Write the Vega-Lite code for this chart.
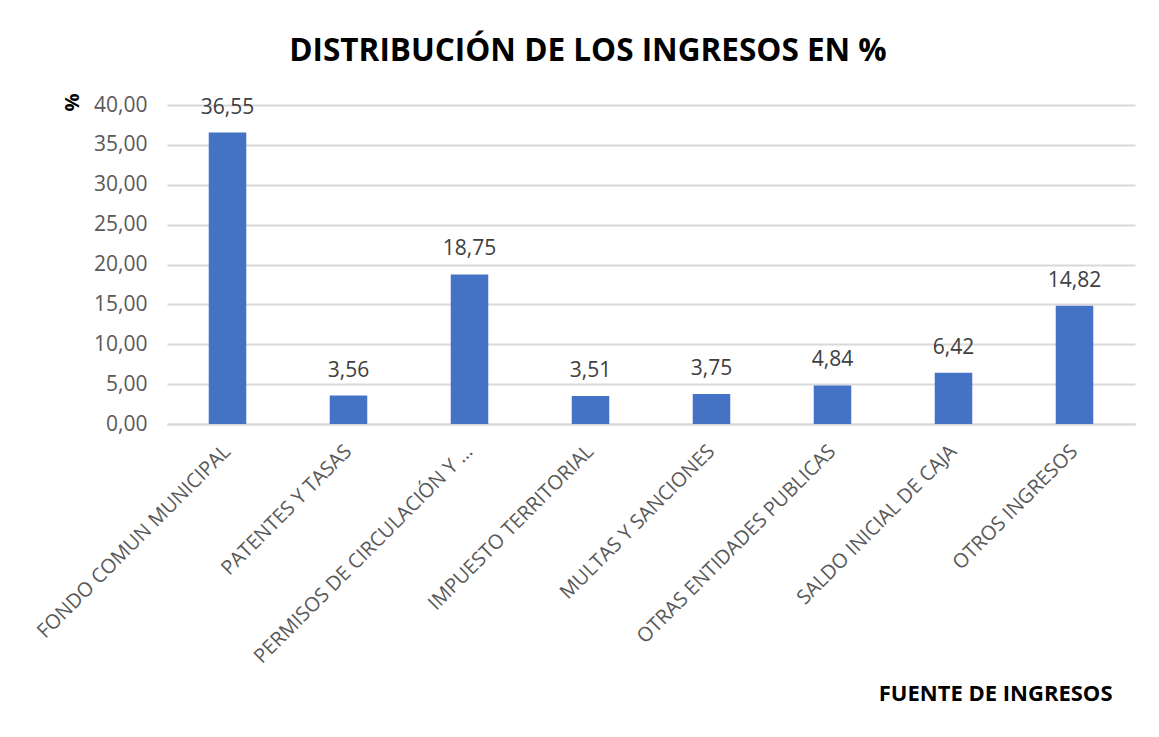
{
  "$schema": "https://vega.github.io/schema/vega-lite/v6.json",
  "width": 968,
  "height": 319,
  "autosize": {"type": "none"},
  "padding": {"left": 167, "top": 105, "right": 24, "bottom": 313},
  "background": "white",
  "config": {
    "locale": {"number": {"decimal": ",", "thousands": ".", "grouping": [3], "currency": ["", ""]}},
    "view": {"stroke": null},
    "font": "Open Sans"
  },
  "title": {
    "text": "DISTRIBUCIÓN DE LOS INGRESOS EN %",
    "fontSize": 31.5,
    "fontWeight": "bold",
    "color": "#000000",
    "font": "Open Sans",
    "anchor": "middle",
    "dx": -63,
    "offset": 26
  },
  "data": {
    "values": [
      {"fuente": "FONDO COMUN MUNICIPAL", "pct": 36.55},
      {"fuente": "PATENTES Y TASAS", "pct": 3.56},
      {"fuente": "PERMISOS DE CIRCULACIÓN Y …", "pct": 18.75},
      {"fuente": "IMPUESTO TERRITORIAL", "pct": 3.51},
      {"fuente": "MULTAS Y SANCIONES", "pct": 3.75},
      {"fuente": "OTRAS ENTIDADES PUBLICAS", "pct": 4.84},
      {"fuente": "SALDO INICIAL DE CAJA", "pct": 6.42},
      {"fuente": "OTROS INGRESOS", "pct": 14.82}
    ]
  },
  "encoding": {
    "x": {
      "field": "fuente",
      "type": "nominal",
      "sort": null,
      "scale": {"paddingInner": 0.69, "paddingOuter": 0.345},
      "axis": {
        "title": "FUENTE DE INGRESOS",
        "titleFontSize": 22,
        "titleFontWeight": "bold",
        "titleColor": "#000000",
        "titleAnchor": "end",
        "titleAlign": "right",
        "titleBaseline": "middle",
        "titleX": 945,
        "titleY": 269,
        "labelAngle": -45,
        "labelAlign": "right",
        "labelBaseline": "middle",
        "labelFontSize": 20,
        "labelColor": "#595959",
        "labelPadding": 24,
        "labelLimit": 400,
        "ticks": false,
        "domainColor": "#D9D9D9",
        "domainWidth": 2
      }
    },
    "y": {
      "field": "pct",
      "type": "quantitative",
      "scale": {"domain": [0, 40], "nice": false},
      "axis": {
        "title": "%",
        "titleFontSize": 20,
        "titleFontWeight": "bold",
        "titleColor": "#000000",
        "titleAngle": 270,
        "titleAnchor": "end",
        "titleAlign": "right",
        "titleBaseline": "middle",
        "titleX": -95,
        "titleY": -12,
        "values": [0, 5, 10, 15, 20, 25, 30, 35, 40],
        "format": ".2f",
        "labelFontSize": 21,
        "labelColor": "#595959",
        "labelPadding": 20,
        "ticks": false,
        "domain": false,
        "gridColor": "#D9D9D9",
        "gridWidth": 2
      }
    }
  },
  "layer": [
    {"mark": {"type": "bar", "color": "#4472C4"}},
    {
      "mark": {"type": "text", "dy": -25, "fontSize": 21, "color": "#404040", "baseline": "middle"},
      "encoding": {"text": {"field": "pct", "type": "quantitative", "format": ".2f"}}
    }
  ]
}
